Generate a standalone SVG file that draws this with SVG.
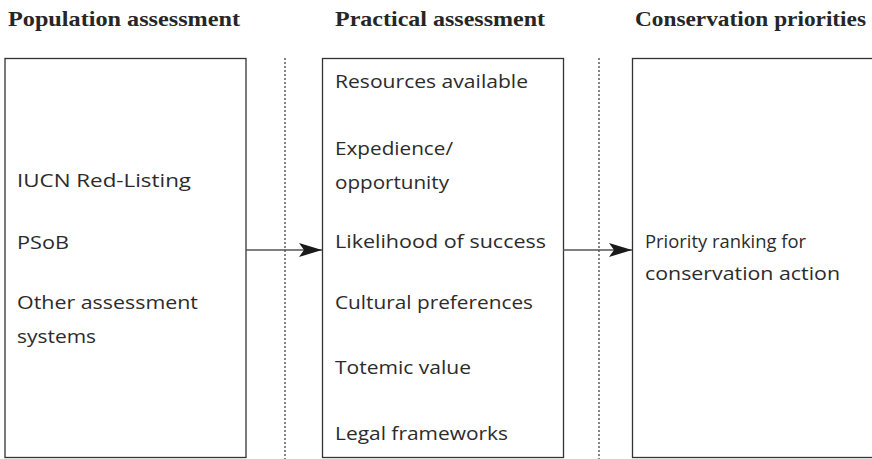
<svg xmlns="http://www.w3.org/2000/svg" width="872" height="459" viewBox="0 0 872 459">
<style>
.h{font-family:"Liberation Serif","Times New Roman",serif;font-weight:bold;font-size:21px;fill:#262626}
.t{font-family:"Open Sans","Liberation Sans",sans-serif;font-size:17.5px;fill:#2b2b2b}
.box{fill:#fff;stroke:#333;stroke-width:1.3}
.dot{stroke:#444;stroke-width:1.3;stroke-dasharray:2 2;fill:none}
.arr{stroke:#555;stroke-width:1.3;fill:none;marker-end:url(#ah)}
</style>
<defs>
<marker id="ah" markerUnits="userSpaceOnUse" markerWidth="24" markerHeight="14" refX="23" refY="7" orient="auto">
<path d="M0,0 L23,7 L0,14 L5,7 Z" fill="#1a1a1a"/>
</marker>
</defs>
<rect width="872" height="459" fill="#fff"/>
<g id="headings">
<text class="h" x="8" y="26" textLength="232" lengthAdjust="spacingAndGlyphs">Population assessment</text>
<text class="h" x="335" y="26" textLength="210" lengthAdjust="spacingAndGlyphs">Practical assessment</text>
<text class="h" x="635" y="26" textLength="231" lengthAdjust="spacingAndGlyphs">Conservation priorities</text>
</g>
<g id="dividers">
<line class="dot" x1="285" y1="58" x2="285" y2="459"/>
<line class="dot" x1="599" y1="58" x2="599" y2="459"/>
</g>
<g id="population">
<rect class="box" x="5" y="58.5" width="241" height="399"/>
<text class="t" x="17" y="187" textLength="174" lengthAdjust="spacingAndGlyphs">IUCN Red-Listing</text>
<text class="t" x="17" y="249" textLength="52" lengthAdjust="spacingAndGlyphs">PSoB</text>
<text class="t" x="17" y="309" textLength="181" lengthAdjust="spacingAndGlyphs">Other assessment</text>
<text class="t" x="17" y="343" textLength="79" lengthAdjust="spacingAndGlyphs">systems</text>
</g>
<g id="practical">
<rect class="box" x="322.5" y="58.5" width="241" height="399"/>
<text class="t" x="335" y="88" textLength="193" lengthAdjust="spacingAndGlyphs">Resources available</text>
<text class="t" x="335" y="155" textLength="118" lengthAdjust="spacingAndGlyphs">Expedience/</text>
<text class="t" x="335" y="189" textLength="114" lengthAdjust="spacingAndGlyphs">opportunity</text>
<text class="t" x="335" y="248" textLength="211" lengthAdjust="spacingAndGlyphs">Likelihood of success</text>
<text class="t" x="335" y="309" textLength="198" lengthAdjust="spacingAndGlyphs">Cultural preferences</text>
<text class="t" x="335" y="374" textLength="136" lengthAdjust="spacingAndGlyphs">Totemic value</text>
<text class="t" x="335" y="440" textLength="173" lengthAdjust="spacingAndGlyphs">Legal frameworks</text>
</g>
<g id="priorities">
<rect class="box" x="632.5" y="58.5" width="245" height="399"/>
<text class="t" x="645" y="248" textLength="161" lengthAdjust="spacingAndGlyphs">Priority ranking for</text>
<text class="t" x="645" y="280" textLength="195" lengthAdjust="spacingAndGlyphs">conservation action</text>
</g>
<g id="connectors">
<line class="arr" x1="246" y1="250" x2="322" y2="250"/>
<line class="arr" x1="563" y1="250" x2="632" y2="250"/>
</g>
</svg>
